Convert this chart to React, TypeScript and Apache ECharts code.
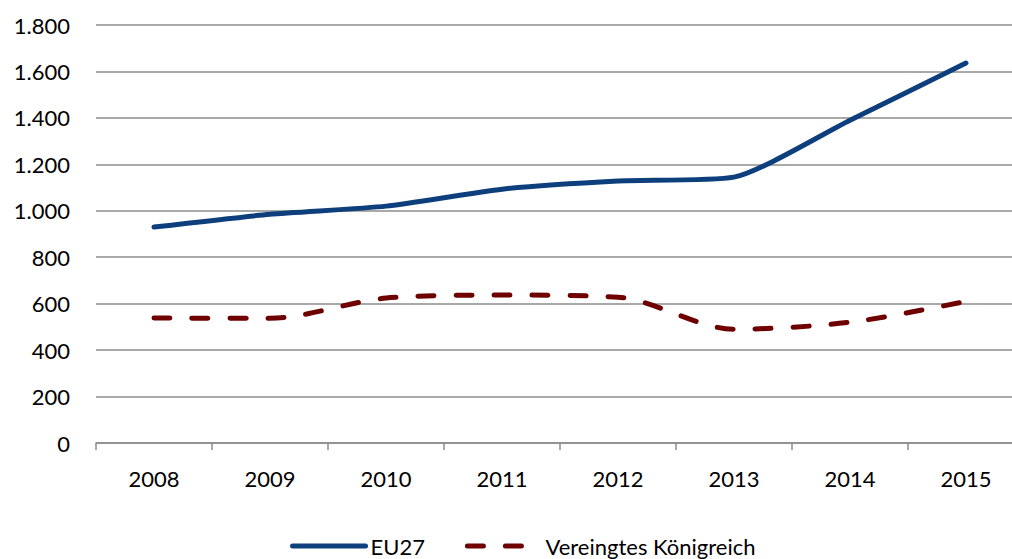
import React, { useEffect, useRef } from "react";
import * as echarts from "echarts";

const years = ["2008", "2009", "2010", "2011", "2012", "2013", "2014", "2015"];
const eu27 = [930, 985, 1020, 1093, 1128, 1145, 1390, 1636];
const uk = [538, 537, 624, 637, 628, 490, 520, 610];
const yTicks = [0, 200, 400, 600, 800, 1000, 1200, 1400, 1600, 1800];

const fmt = (v: number) => String(v).replace(/\B(?=(\d{3})+(?!\d))/g, ".");

export default function App() {
  const ref = useRef<HTMLDivElement>(null);
  useEffect(() => {
    if (!ref.current) return;
    const chart = echarts.init(ref.current, null, { renderer: "svg" });
    const font = "Lato";
    chart.setOption({
      animation: false,
      textStyle: { fontFamily: font },
      grid: { left: 96, top: 25, right: 6, bottom: 116, containLabel: false },
      legend: {
        top: 530,
        left: 285,
        itemWidth: 73,
        itemHeight: 10,
        itemGap: 40,
        itemStyle: { opacity: 0 },
        lineStyle: { width: 5, cap: "round" },
        textStyle: { fontSize: 22, color: "#000", fontFamily: font },
        data: [{ name: "EU27" }, { name: "Vereingtes Königreich" }],
      },
      xAxis: {
        type: "category",
        data: years,
        boundaryGap: true,
        axisLine: { lineStyle: { color: "#8c8c8c", width: 1.5 } },
        axisTick: { show: true, length: 7, lineStyle: { color: "#8c8c8c", width: 1.5 } },
        axisLabel: { fontSize: 22, color: "#000", margin: 24, fontFamily: font },
      },
      yAxis: {
        type: "value",
        min: yTicks[0],
        max: yTicks[yTicks.length - 1],
        interval: 200,
        axisLine: { show: false },
        axisTick: { show: false },
        axisLabel: { fontSize: 22, color: "#000", margin: 26, fontFamily: font, formatter: (v: number) => fmt(v) },
        splitLine: { lineStyle: { color: "#8c8c8c", width: 1.5 } },
      },
      series: [
        {
          name: "EU27",
          type: "line",
          data: eu27,
          smooth: 0.2,
          symbol: "none",
          lineStyle: { color: "#0d3f7d", width: 5, cap: "round" },
          itemStyle: { color: "#0d3f7d" },
        },
        {
          name: "Vereingtes Königreich",
          type: "line",
          data: uk,
          smooth: 0.3,
          symbol: "none",
          lineStyle: { color: "#6e0000", width: 5, type: [16, 22], cap: "round" },
          itemStyle: { color: "#6e0000" },
        },
      ],
    });
    return () => chart.dispose();
  }, []);
  return (
    <div style={{ position: "fixed", left: 0, top: 0, width: 1012, height: 559, overflow: "hidden", background: "#fff" }}>
      <div ref={ref} style={{ width: 1030, height: 559 }} />
    </div>
  );
}
